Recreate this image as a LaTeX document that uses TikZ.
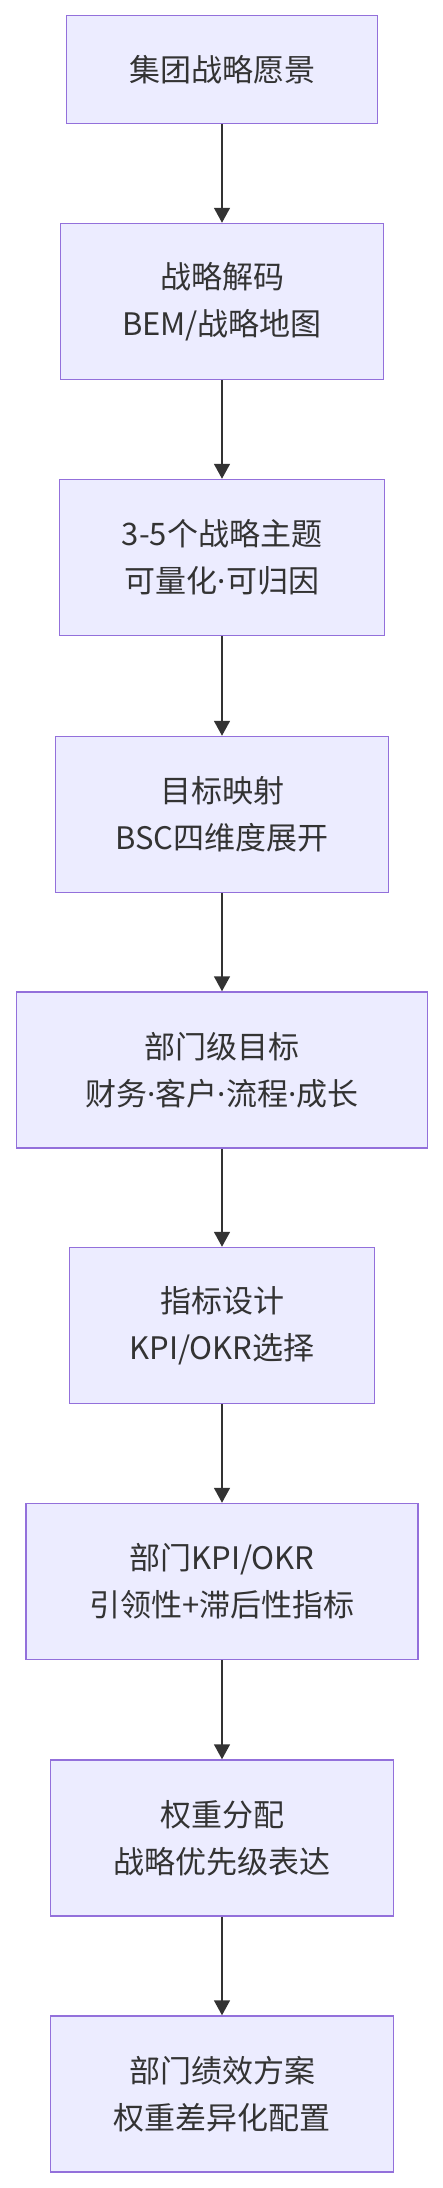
\documentclass[tikz,border=0pt]{standalone}
\usepackage{fontspec}
\setmainfont{Noto Sans CJK SC}
\newfontfamily\latinfont{Noto Sans}
\newcommand{\mdot}{{\latinfont ·}}
\usepackage{tikz}
\usetikzlibrary{arrows.meta}
\definecolor{boxfill}{HTML}{ECECFF}
\definecolor{boxline}{HTML}{9370DB}
\definecolor{ink}{HTML}{333333}
\tikzstyle{stage} = [draw=boxline, fill=boxfill, line width=1.5pt, rectangle, minimum height=156pt, align=center, text=ink, font={\fontsize{31}{47}\selectfont}]
\tikzstyle{single} = [minimum height=108pt]
\tikzstyle{link} = [draw=ink, line width=1.6pt, -{Triangle[length=15pt,width=16pt]}]

\begin{document}
\begin{tikzpicture}[x=1pt,y=-1pt]
  \useasboundingbox (0,0) rectangle (443,2188);
  \node[stage,single,minimum width=311pt](0) at (222,69.5){集团战略愿景};
  \node[stage,minimum width=323pt](1) at (222,301.5){战略解码\\BEM/战略地图};
  \node[stage,minimum width=325pt](2) at (222,557.5){3-5个战略主题\\可量化\mdot 可归因};
  \node[stage,minimum width=333pt](3) at (222,814.5){目标映射\\BSC四维度展开};
  \node[stage,minimum width=411pt](4) at (222,1070){部门级目标\\财务\mdot 客户\mdot 流程\mdot 成长};
  \node[stage,minimum width=305pt](5) at (222,1325.5){指标设计\\KPI/OKR选择};
  \node[stage,minimum width=392pt](6) at (222,1581.5){部门KPI/OKR\\引领性+滞后性指标};
  \node[stage,minimum width=343pt](7) at (222,1838){权重分配\\战略优先级表达};
  \node[stage,minimum width=343pt](8) at (222,2094){部门绩效方案\\权重差异化配置};
  \draw[link](0)--(1);
  \draw[link](1)--(2);
  \draw[link](2)--(3);
  \draw[link](3)--(4);
  \draw[link](4)--(5);
  \draw[link](5)--(6);
  \draw[link](6)--(7);
  \draw[link](7)--(8);
\end{tikzpicture}
\end{document}
